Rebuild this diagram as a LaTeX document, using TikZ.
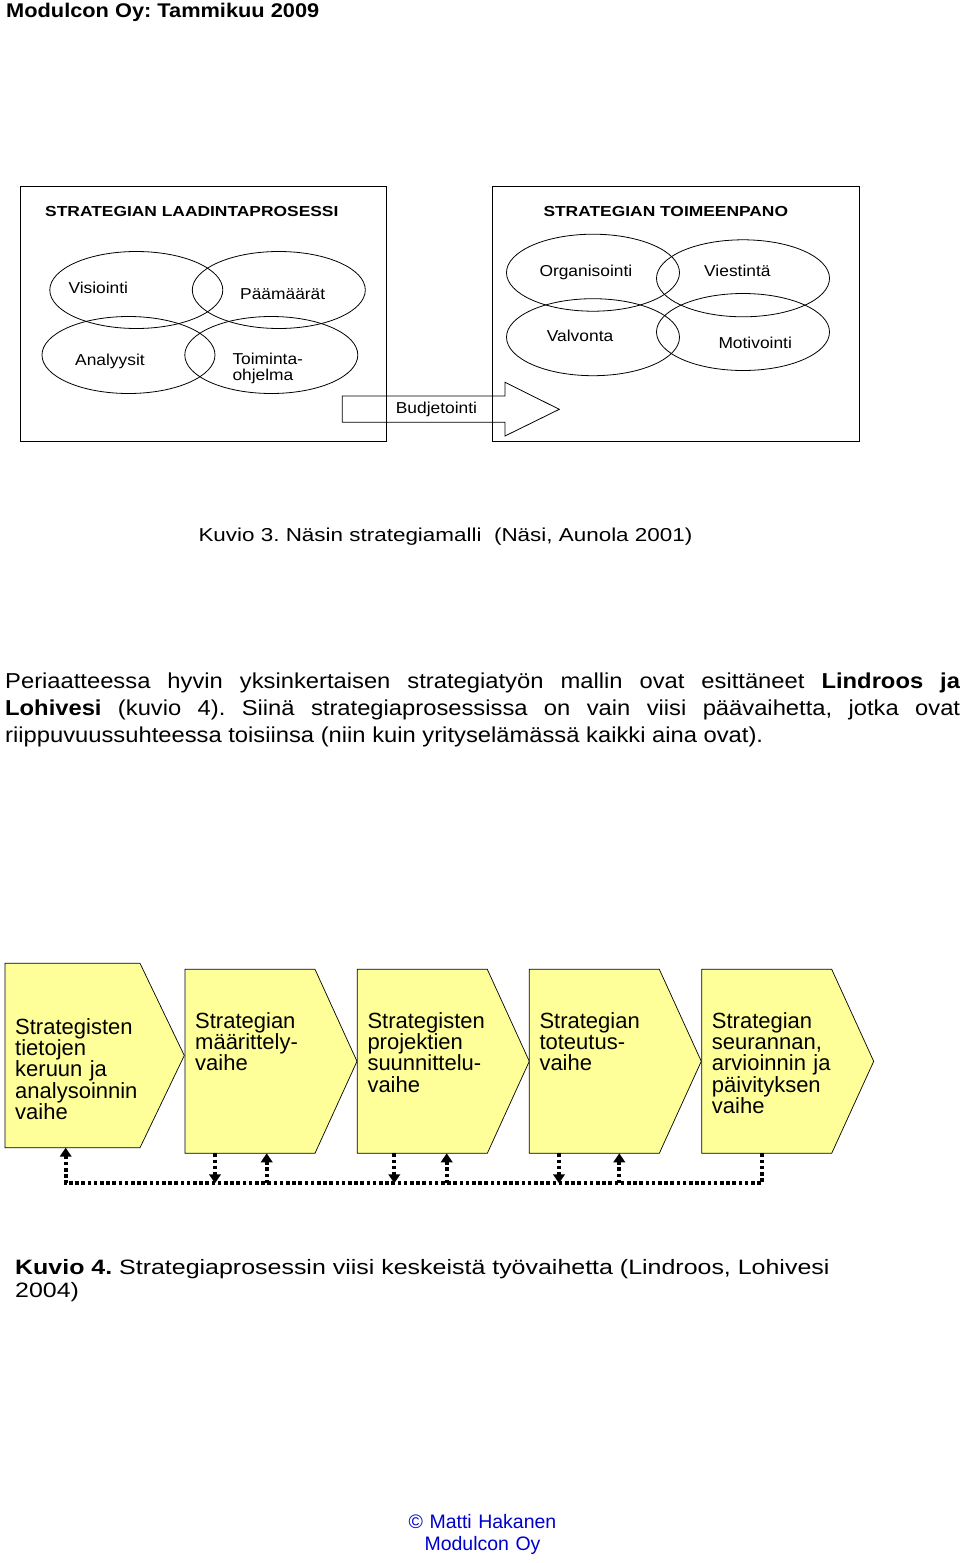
\documentclass[tikz,border=0pt]{standalone}
\usepackage{fontspec}
\setmainfont{Liberation Sans}
\newfontfamily\wide[FakeStretch=1.2]{Liberation Sans}
\newfontfamily\midwide[FakeStretch=1.1]{Liberation Sans}
\usetikzlibrary{shapes.geometric,arrows.meta}
\definecolor{vaihekeltainen}{RGB}{255,255,153}
\definecolor{tekijansininen}{RGB}{0,0,204}
\newcommand{\koko}[2]{\fontsize{#1}{#2}\selectfont}
\frenchspacing
\begin{document}
\begin{tikzpicture}[x=1pt,y=-1pt,
  kehys/.style={draw,line width=0.8pt},
  soikio/.style={draw,ellipse,line width=0.8pt,minimum width=173pt,minimum height=77pt,inner sep=0pt},
  pieni/.style={anchor=base west,inner sep=0pt,font=\midwide\koko{15.8}{15.5}},
  vaihe/.style={draw,line width=0.7pt,fill=vaihekeltainen},
  vaiheteksti/.style={anchor=base west,inner sep=0pt,text width=140pt,align=left,font=\koko{22}{21.4}},
  palaute/.style={line width=3.8pt,dash pattern=on 3.6pt off 2.6pt},
  karki/.style={-{Triangle[length=9pt,width=11.5pt]}}
]
\useasboundingbox (0,0) rectangle (960,1563);

\node[anchor=base west,inner sep=0pt,font=\midwide\bfseries\koko{19.8}{24}] (otsikko) at (6,17.3) {Modulcon Oy: Tammikuu 2009};

% Kuvio 3
\draw[kehys] (20.7,186) rectangle (386.7,441.7);
\draw[kehys] (492.3,186) rectangle (859,441.7);
\node[anchor=base west,inner sep=0pt,font=\wide\bfseries\koko{14.5}{17}] (laadinta) at (45,216.7) {STRATEGIAN LAADINTAPROSESSI};
\node[anchor=base west,inner sep=0pt,font=\wide\bfseries\koko{14.5}{17}] (toimeenpano) at (543.3,216.7) {STRATEGIAN TOIMEENPANO};

\node[soikio] (visio) at (136.3,290) {};
\node[soikio] (paamaara) at (278.8,290) {};
\node[soikio] (analyysi) at (128.5,355) {};
\node[soikio] (toiminta) at (271.3,355) {};
\node[soikio] (organisointi) at (593,272.7) {};
\node[soikio] (viestinta) at (743,278.3) {};
\node[soikio] (valvonta) at (593,337.2) {};
\node[soikio] (motivointi) at (743,332) {};

\node[pieni] (t-visio) at (68.3,293) {Visiointi};
\node[pieni] (t-paamaara) at (240,299) {Päämäärät};
\node[pieni] (t-analyysi) at (75,365) {Analyysit};
\node[pieni,text width=80pt,align=left] (t-toiminta) at (232.3,364.5) {Toiminta-\\ohjelma};
\node[pieni] (t-organisointi) at (539.3,276.7) {Organisointi};
\node[pieni] (t-viestinta) at (704,276.7) {Viestintä};
\node[pieni] (t-valvonta) at (546.7,341.7) {Valvonta};
\node[pieni] (t-motivointi) at (718.3,348.3) {Motivointi};

\draw[kehys] (342.3,396) -- (505,396) -- (505,382.3) -- (559.3,409.3) -- (505,436) -- (505,422.3) -- (342.3,422.3) -- cycle;
\node[pieni] (budjetointi) at (395.7,413.3) {Budjetointi};

\node[anchor=base west,inner sep=0pt,font=\wide\koko{18.7}{22}] (kuvio3) at (198.3,541.7) {Kuvio 3. Näsin strategiamalli\ \ (Näsi, Aunola 2001)};

\node[anchor=base west,inner sep=0pt,text width=955pt,align=justify,font=\midwide\koko{21.6}{27.2}] (kappale) at (5,688.3)
  {Periaatteessa hyvin yksinkertaisen strategiatyön mallin ovat esittäneet \textbf{Lindroos ja}\linebreak
   \textbf{Lohivesi} (kuvio 4). Siinä strategiaprosessissa on vain viisi päävaihetta, jotka ovat\linebreak
   riippuvuussuhteessa toisiinsa (niin kuin yrityselämässä kaikki aina ovat).};

% Kuvio 4
\draw[vaihe] (5,963.3) -- (140,963.3) -- (184.3,1055.5) -- (140,1147.7) -- (5,1147.7) -- cycle;
\foreach \n/\x in {2/185,3/357.3,4/529.3,5/701.7}
  \draw[vaihe] (\x,969.3) -- ++(130,0) -- ++(42,92) -- ++(-42,92) -- ++(-130,0) -- cycle;

\node[vaiheteksti] (v1) at (15,1034) {Strategisten\\tietojen\\keruun ja\\analysoinnin\\vaihe};
\node[vaiheteksti] (v2) at (195,1028) {Strategian\\määrittely-\\vaihe};
\node[vaiheteksti] (v3) at (367.3,1028) {Strategisten\\projektien\\suunnittelu-\\vaihe};
\node[vaiheteksti] (v4) at (539.3,1028) {Strategian\\toteutus-\\vaihe};
\node[vaiheteksti] (v5) at (711.7,1028) {Strategian\\seurannan,\\arvioinnin ja\\päivityksen\\vaihe};

\coordinate (linja) at (0,1183.3);
\coordinate (ylos1) at (65.7,1147.7);
\coordinate (alas2) at (215,1153.3);
\coordinate (ylos2) at (266.7,1153.3);
\coordinate (alas3) at (394.3,1153.3);
\coordinate (ylos3) at (446.7,1153.3);
\coordinate (alas4) at (559,1153.3);
\coordinate (ylos4) at (619.3,1153.3);
\coordinate (alas5) at (761.7,1153.3);

\draw[palaute,karki] (alas5) |- (linja -| ylos1) -- (ylos1);
\foreach \n in {2,3,4} {
  \draw[palaute,karki] (alas\n) -- (alas\n |- linja);
  \draw[palaute,karki] (ylos\n |- linja) -- (ylos\n);
}

\node[anchor=base west,inner sep=0pt,text width=900pt,align=left,font=\wide\koko{20.8}{23}] (kuvio4) at (15,1274)
  {\textbf{Kuvio 4.} Strategiaprosessin viisi keskeistä työvaihetta (Lindroos, Lohivesi\\2004)};

\node[anchor=base,inner sep=0pt,text width=300pt,align=center,text=tekijansininen,font=\koko{19.5}{22.4}] (tekija) at (482.5,1528.3)
  {© Matti Hakanen\\Modulcon Oy};
\end{tikzpicture}
\end{document}
